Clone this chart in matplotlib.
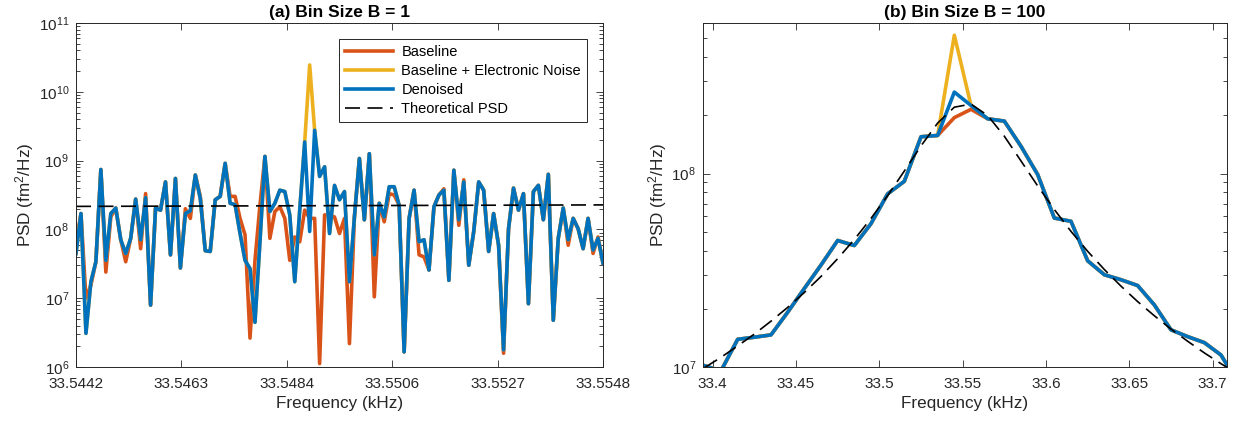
import numpy as np
import matplotlib
matplotlib.use("Agg")
import matplotlib.pyplot as plt
from matplotlib.ticker import FixedLocator, FixedFormatter, NullLocator, LogLocator, NullFormatter

plt.rcParams['font.family'] = ['Liberation Sans', 'DejaVu Sans']
plt.rcParams['mathtext.fontset'] = 'custom'
plt.rcParams['mathtext.rm'] = 'Liberation Sans'
plt.rcParams['mathtext.it'] = 'Liberation Sans:italic'
plt.rcParams['mathtext.bf'] = 'Liberation Sans:bold'

# ---------------- Panel (a): bin size 1 ----------------
freq_a_start, freq_a_stop = 33.5442, 33.5548     # kHz
xtick_labels_a = ['33.5442', '33.5463', '33.5484', '33.5506', '33.5527', '33.5548']

# log10 of PSD (fm^2/Hz)
denoised_a_log10 = [
    7.65, 8.23, 6.49, 7.24, 7.53, 8.87, 7.55, 8.23, 8.31, 7.85,
    7.65, 7.87, 8.44, 7.85, 8.46, 6.90, 8.31, 8.28, 8.69, 7.63,
    8.74, 7.44, 8.23, 8.27, 8.79, 8.45, 7.69, 7.68, 8.43, 8.48,
    8.96, 8.38, 8.36, 7.94, 7.55, 7.43, 6.65, 7.82, 9.06, 8.26,
    8.38, 8.57, 8.55, 8.21, 7.24, 8.28, 9.27, 7.97, 9.44, 8.77,
    8.91, 7.94, 8.64, 8.43, 8.55, 7.24, 8.18, 9.03, 8.14, 9.10,
    7.63, 8.38, 8.18, 8.62, 8.62, 8.35, 6.22, 8.16, 8.57, 7.82,
    7.85, 7.41, 8.33, 8.50, 8.57, 7.26, 8.86, 8.14, 8.69, 7.48,
    7.97, 8.69, 8.57, 7.68, 8.23, 7.77, 6.25, 8.01, 8.60, 8.28,
    8.52, 6.92, 8.55, 8.64, 8.14, 8.80, 6.68, 7.87, 8.31, 7.85,
    8.16, 8.01, 7.72, 8.16, 7.70, 7.87, 7.51]

baseline_a_log10 = [
    7.80, 8.23, 7.00, 7.19, 7.53, 8.87, 7.38, 8.18, 8.31, 7.85,
    7.53, 7.87, 8.44, 7.72, 8.52, 6.90, 8.31, 8.28, 8.69, 7.63,
    8.74, 7.44, 8.30, 8.16, 8.79, 8.48, 7.69, 7.68, 8.43, 8.48,
    8.96, 8.48, 8.48, 8.16, 7.92, 6.42, 7.55, 8.35, 9.06, 7.87,
    8.26, 8.33, 8.16, 7.55, 7.89, 7.82, 8.28, 8.16, 8.16, 6.05,
    8.21, 8.21, 8.18, 7.94, 8.16, 6.34, 8.18, 9.03, 8.14, 9.10,
    7.02, 8.38, 8.11, 8.52, 8.50, 8.35, 6.22, 8.16, 8.57, 7.63,
    7.60, 7.41, 8.33, 8.50, 8.59, 7.26, 8.86, 8.06, 8.72, 7.48,
    7.97, 8.69, 8.57, 7.68, 8.23, 7.77, 6.20, 8.01, 8.60, 8.28,
    8.52, 6.92, 8.55, 8.64, 8.14, 8.80, 6.68, 7.87, 8.31, 7.77,
    8.16, 8.01, 7.72, 8.16, 7.65, 7.89, 7.51]

noisy_a_log10 = [
    7.65, 8.23, 6.49, 7.24, 7.53, 8.87, 7.55, 8.23, 8.31, 7.85,
    7.65, 7.87, 8.44, 7.85, 8.46, 6.90, 8.31, 8.28, 8.69, 7.63,
    8.74, 7.44, 8.23, 8.27, 8.79, 8.45, 7.69, 7.68, 8.43, 8.48,
    8.96, 8.38, 8.36, 7.94, 7.55, 7.43, 6.65, 7.82, 9.06, 8.26,
    8.38, 8.57, 8.55, 8.21, 7.24, 8.28, 9.27, 10.39, 9.44, 8.77,
    8.91, 7.94, 8.64, 8.43, 8.55, 7.24, 8.18, 9.03, 8.14, 9.10,
    7.63, 8.38, 8.18, 8.62, 8.62, 8.35, 6.22, 8.16, 8.57, 7.82,
    7.85, 7.41, 8.33, 8.50, 8.57, 7.26, 8.86, 8.14, 8.69, 7.48,
    7.97, 8.69, 8.57, 7.68, 8.23, 7.77, 6.25, 8.01, 8.60, 8.28,
    8.52, 6.92, 8.55, 8.64, 8.14, 8.80, 6.68, 7.87, 8.31, 7.85,
    8.16, 8.01, 7.72, 8.16, 7.70, 7.87, 7.51]

theory_a_freq = [33.5442, 33.5548]
theory_a = [2.16e8, 2.27e8]

# ---------------- Panel (b): bin size 100 ----------------
freq_b_start, freq_b_step = 33.395, 0.01       # kHz
xlim_b = (33.3942, 33.7086)
xticks_b = [33.4, 33.45, 33.5, 33.55, 33.6, 33.65, 33.7]
xtick_labels_b = ['33.4', '33.45', '33.5', '33.55', '33.6', '33.65', '33.7']

denoised_b_log10 = [
    7.007, 6.980, 7.143, 7.154, 7.166, 7.283, 7.406, 7.527, 7.654, 7.628,
    7.741, 7.895, 7.960, 8.190, 8.197, 8.421, 8.352, 8.283, 8.271, 8.141,
    7.995, 7.770, 7.753, 7.549, 7.477, 7.451, 7.421, 7.321, 7.192, 7.157,
    7.126, 7.062, 6.920]
baseline_b_log10 = [
    7.007, 6.980, 7.143, 7.154, 7.166, 7.283, 7.406, 7.527, 7.654, 7.628,
    7.741, 7.895, 7.960, 8.190, 8.197, 8.289, 8.332, 8.283, 8.271, 8.141,
    7.995, 7.770, 7.753, 7.549, 7.477, 7.451, 7.421, 7.321, 7.192, 7.157,
    7.126, 7.062, 6.920]
noisy_b_log10 = [
    7.007, 6.980, 7.143, 7.154, 7.166, 7.283, 7.406, 7.527, 7.654, 7.628,
    7.741, 7.895, 7.960, 8.190, 8.197, 8.715, 8.352, 8.283, 8.271, 8.141,
    7.995, 7.770, 7.753, 7.549, 7.477, 7.451, 7.421, 7.321, 7.192, 7.157,
    7.126, 7.062, 6.920]
theory_b_log10 = [
    6.996, 7.050, 7.109, 7.170, 7.237, 7.308, 7.385, 7.468, 7.560, 7.659,
    7.768, 7.886, 8.013, 8.143, 8.261, 8.343, 8.359, 8.300, 8.193, 8.065,
    7.936, 7.814, 7.701, 7.598, 7.504, 7.418, 7.338, 7.265, 7.196, 7.133,
    7.073, 7.017, 6.965]

C_BASE = '#D95319'
C_NOISE = '#EDB120'
C_DEN = '#0072BD'
AX_COL = '#262626'
LW = 2.6

fig = plt.figure(figsize=(12.36, 4.24), dpi=100)
ax1 = fig.add_axes([76/1236, 1-367/424, 527/1236, 344/424])
ax2 = fig.add_axes([703/1236, 1-367/424, 524/1236, 344/424])

fa = np.linspace(freq_a_start, freq_a_stop, len(denoised_a_log10))
fb = freq_b_start + freq_b_step*np.arange(len(denoised_b_log10))

def style(ax):
    for s in ax.spines.values():
        s.set_color(AX_COL)
        s.set_linewidth(0.7)
    ax.tick_params(which='both', direction='in', top=True, right=True,
                   colors=AX_COL, labelsize=11, width=0.6)
    ax.tick_params(which='major', length=5)
    ax.tick_params(which='minor', length=2.8)
    ax.tick_params(axis='x', which='both', pad=7.5)
    ax.tick_params(axis='y', which='both', pad=5)

LABEL_FS = 12.3

# Panel (a)
ax1.plot(fa, 10**np.array(baseline_a_log10), color=C_BASE, lw=LW, label='Baseline')
ax1.plot(fa, 10**np.array(noisy_a_log10), color=C_NOISE, lw=LW, label='Baseline + Electronic Noise')
ax1.plot(fa, 10**np.array(denoised_a_log10), color=C_DEN, lw=LW, label='Denoised')
ax1.plot(theory_a_freq, theory_a, color='black', lw=1.2, dashes=(9, 4.5), label='Theoretical PSD')
ax1.set_yscale('log')
ax1.set_xlim(freq_a_start, freq_a_stop)
ax1.set_ylim(1e6, 1e11)
ax1.xaxis.set_major_locator(FixedLocator(np.linspace(freq_a_start, freq_a_stop, 6)))
ax1.xaxis.set_major_formatter(FixedFormatter(xtick_labels_a))
ax1.xaxis.set_minor_locator(NullLocator())
ax1.yaxis.set_major_locator(LogLocator(base=10, numticks=20))
ax1.yaxis.set_minor_locator(LogLocator(base=10, subs=np.arange(2, 10), numticks=20))
ax1.yaxis.set_minor_formatter(NullFormatter())
style(ax1)
ax1.set_xlabel('Frequency (kHz)', fontsize=LABEL_FS, color=AX_COL, labelpad=3)
ax1.set_ylabel('PSD (fm$^2$/Hz)', fontsize=LABEL_FS, color=AX_COL, labelpad=2)
ax1.set_title('(a) Bin Size B = 1', fontsize=12.5, fontweight='bold', pad=4)
leg = ax1.legend(loc='upper right', fontsize=10.5, frameon=True, fancybox=False,
                 framealpha=1, edgecolor=AX_COL, handlelength=3.3, borderaxespad=1.1,
                 labelspacing=0.35, borderpad=0.4, handletextpad=0.6)
leg.get_frame().set_linewidth(0.7)

# Panel (b)
ax2.plot(fb, 10**np.array(baseline_b_log10), color=C_BASE, lw=LW)
ax2.plot(fb, 10**np.array(noisy_b_log10), color=C_NOISE, lw=LW)
ax2.plot(fb, 10**np.array(denoised_b_log10), color=C_DEN, lw=LW)
ax2.plot(fb, 10**np.array(theory_b_log10), color='black', lw=1.2, dashes=(9, 4.5))
ax2.set_yscale('log')
ax2.set_xlim(*xlim_b)
ax2.set_ylim(1e7, 6e8)
ax2.xaxis.set_major_locator(FixedLocator(xticks_b))
ax2.xaxis.set_major_formatter(FixedFormatter(xtick_labels_b))
ax2.xaxis.set_minor_locator(NullLocator())
ax2.yaxis.set_major_locator(LogLocator(base=10, numticks=20))
ax2.yaxis.set_minor_locator(LogLocator(base=10, subs=np.arange(2, 10), numticks=20))
ax2.yaxis.set_minor_formatter(NullFormatter())
style(ax2)
ax2.set_xlabel('Frequency (kHz)', fontsize=LABEL_FS, color=AX_COL, labelpad=3)
ax2.set_ylabel('PSD (fm$^2$/Hz)', fontsize=LABEL_FS, color=AX_COL, labelpad=2)
ax2.set_title('(b) Bin Size B = 100', fontsize=12.5, fontweight='bold', pad=4)

fig.savefig('out.png', dpi=100)
